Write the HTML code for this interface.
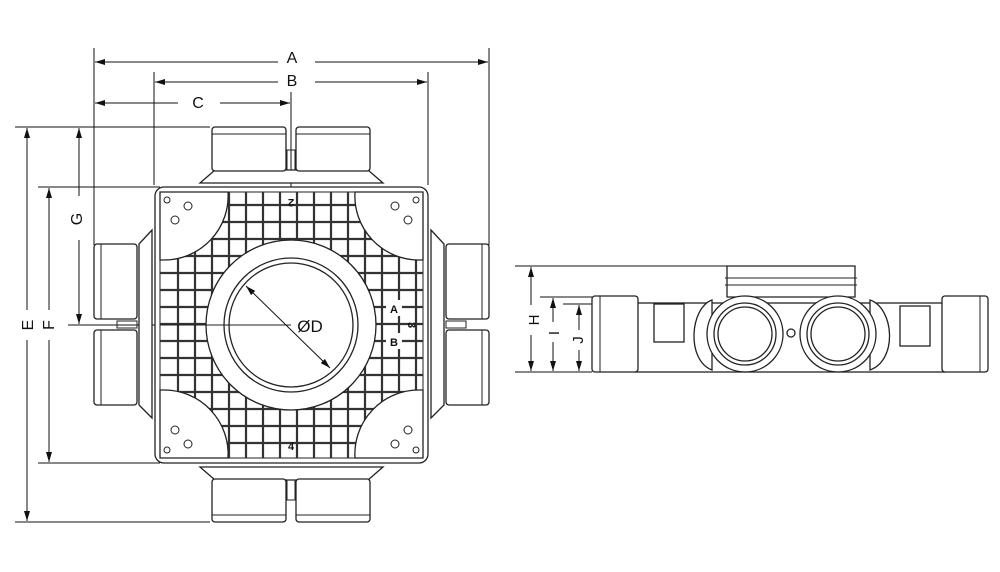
<!DOCTYPE html>
<html><head><meta charset="utf-8"><style>
html,body{margin:0;padding:0;background:#fff;width:1000px;height:572px;overflow:hidden}
svg{display:block}
text{font-family:"Liberation Sans",sans-serif;fill:#111}
</style></head><body>
<svg width="1000" height="572" viewBox="0 0 1000 572" xmlns="http://www.w3.org/2000/svg">
<defs>
<marker id="ar" viewBox="0 0 10 6" refX="10" refY="3" markerWidth="10" markerHeight="6" orient="auto-start-reverse" markerUnits="userSpaceOnUse"><path d="M0,0 L10,3 L0,6 z" fill="#111"/></marker>
<clipPath id="sq"><rect x="160" y="192" width="263" height="266"/></clipPath>
</defs>
<g stroke="#111" stroke-width="1" fill="none">
<!-- dimension lines top -->
<line x1="94" y1="48" x2="94" y2="245"/>
<line x1="489" y1="48" x2="489" y2="245"/>
<line x1="154" y1="72" x2="154" y2="185"/>
<line x1="428" y1="72" x2="428" y2="185"/>
<line x1="291" y1="92" x2="291" y2="325"/>
<line x1="95" y1="62" x2="278" y2="62" marker-start="url(#ar)"/>
<line x1="315" y1="62" x2="488" y2="62" marker-end="url(#ar)"/>
<line x1="155" y1="82" x2="278" y2="82" marker-start="url(#ar)"/>
<line x1="315" y1="82" x2="427" y2="82" marker-end="url(#ar)"/>
<line x1="95" y1="103" x2="178" y2="103" marker-start="url(#ar)"/>
<line x1="220" y1="103" x2="290" y2="103" marker-end="url(#ar)"/>
<!-- left dims -->
<line x1="15" y1="127" x2="210" y2="127"/>
<line x1="15" y1="522" x2="210" y2="522"/>
<line x1="38" y1="187" x2="160" y2="187"/>
<line x1="38" y1="463" x2="160" y2="463"/>
<line x1="68" y1="325" x2="170" y2="325"/>
<line x1="27" y1="128" x2="27" y2="310" marker-start="url(#ar)"/>
<line x1="27" y1="340" x2="27" y2="521" marker-end="url(#ar)"/>
<line x1="49" y1="188" x2="49" y2="310" marker-start="url(#ar)"/>
<line x1="49" y1="340" x2="49" y2="462" marker-end="url(#ar)"/>
<line x1="79" y1="128" x2="79" y2="196" marker-start="url(#ar)"/>
<line x1="79" y1="240" x2="79" y2="324" marker-end="url(#ar)"/>
</g>
<text x="292" y="63" font-size="16" text-anchor="middle">A</text>
<text x="292" y="86" font-size="16" text-anchor="middle">B</text>
<text x="198" y="108" font-size="16" text-anchor="middle">C</text>
<text transform="translate(27,325) rotate(-90)" font-size="16" text-anchor="middle" dy="6">E</text>
<text transform="translate(48,325) rotate(-90)" font-size="16" text-anchor="middle" dy="6">F</text>
<text transform="translate(76,219) rotate(-90)" font-size="16" text-anchor="middle" dy="6">G</text>

<!-- plan view -->
<g stroke="#222" stroke-width="1.3" fill="#fff">
<!-- trapezoid skirts -->
<path d="M200,183 L215,170 L368,170 L383,183 Z"/>
<path d="M200,467 L215,480 L368,480 L383,467 Z"/>
<path d="M152,230 L139,244 L139,405 L152,418 Z"/>
<path d="M431,230 L444,244 L444,405 L431,418 Z"/>
<!-- ports -->
<rect x="212" y="127" width="74" height="44" rx="3"/>
<rect x="296" y="127" width="74" height="44" rx="3"/>
<rect x="212" y="479" width="74" height="43" rx="3"/>
<rect x="296" y="479" width="74" height="43" rx="3"/>
<rect x="94" y="244" width="43" height="75" rx="3"/>
<rect x="94" y="330" width="43" height="75" rx="3"/>
<rect x="446" y="244" width="43" height="75" rx="3"/>
<rect x="446" y="330" width="43" height="75" rx="3"/>
<!-- body -->
<rect x="155" y="187" width="273" height="276" rx="9"/>
</g>
<g stroke="#222" stroke-width="1" fill="none">
<line x1="212" y1="134" x2="286" y2="134"/><line x1="296" y1="134" x2="370" y2="134"/>
<line x1="212" y1="515" x2="286" y2="515"/><line x1="296" y1="515" x2="370" y2="515"/>
<line x1="101" y1="244" x2="101" y2="319"/><line x1="101" y1="330" x2="101" y2="405"/>
<line x1="482" y1="244" x2="482" y2="319"/><line x1="482" y1="330" x2="482" y2="405"/>
<rect x="287" y="150" width="8" height="20"/>
<rect x="287" y="480" width="8" height="20"/>
<rect x="117" y="321" width="20" height="7"/>
<rect x="446" y="321" width="20" height="7"/>
<rect x="160" y="192" width="263" height="266"/>
</g>
<!-- grid -->
<g clip-path="url(#sq)" stroke="#333" stroke-width="2.2" fill="none">
<path d="M178,192V458M195,192V458M212,192V458M229,192V458M246,192V458M263,192V458M280,192V458M297,192V458M314,192V458M331,192V458M348,192V458M365,192V458M382,192V458M399,192V458M416,192V458
M160,205H423M160,222H423M160,239H423M160,256H423M160,273H423M160,290H423M160,307H423M160,324H423M160,341H423M160,358H423M160,375H423M160,392H423M160,409H423M160,426H423M160,443H423"/>
</g>
<g stroke="#222" stroke-width="1.3" fill="#fff">
<!-- corner quarter blocks -->
<path d="M160,192 H228 A64,64 0 0 1 164,260 H160 Z"/>
<path d="M423,192 H355 A64,64 0 0 0 419,260 H423 Z"/>
<path d="M160,458 H228 A64,64 0 0 0 164,390 H160 Z"/>
<path d="M423,458 H355 A64,64 0 0 1 419,390 H423 Z"/>
<circle cx="291" cy="325" r="85"/>
<circle cx="291" cy="325" r="67"/>
<circle cx="291" cy="325" r="62"/>
</g>
<g stroke="#222" stroke-width="1" fill="none">
<circle cx="167" cy="200" r="3"/><circle cx="416" cy="200" r="3"/>
<circle cx="167" cy="450" r="3"/><circle cx="416" cy="450" r="3"/>
<circle cx="188" cy="206" r="4"/><circle cx="175" cy="220" r="4"/>
<circle cx="395" cy="206" r="4"/><circle cx="408" cy="220" r="4"/>
<circle cx="175" cy="430" r="4"/><circle cx="188" cy="444" r="4"/>
<circle cx="408" cy="430" r="4"/><circle cx="395" cy="444" r="4"/>
<line x1="291" y1="325" x2="160" y2="325"/>
<line x1="246" y1="286" x2="330" y2="368" stroke="#111" marker-start="url(#ar)" marker-end="url(#ar)"/>
</g>
<rect x="386" y="300" width="16" height="16" fill="#fff"/>
<rect x="386" y="333" width="16" height="16" fill="#fff"/>
<text x="394" y="313" font-size="11" font-weight="bold" text-anchor="middle">A</text>
<text x="394" y="346" font-size="11" font-weight="bold" text-anchor="middle">B</text>
<text transform="translate(412,325) rotate(90)" font-size="11" font-weight="bold" text-anchor="middle" dy="4">3</text>
<text transform="translate(291,203) rotate(180)" font-size="11" font-weight="bold" text-anchor="middle" dy="4">2</text>
<text x="291" y="450" font-size="11" font-weight="bold" text-anchor="middle">4</text>
<text x="310" y="332" font-size="17" text-anchor="middle">ØD</text>

<!-- side view -->
<g stroke="#111" stroke-width="1" fill="none">
<line x1="515" y1="266" x2="727" y2="266"/>
<line x1="515" y1="372" x2="592" y2="372"/>
<line x1="540" y1="297" x2="592" y2="297"/>
<line x1="563" y1="304" x2="592" y2="304"/>
<line x1="531" y1="267" x2="531" y2="305" marker-start="url(#ar)"/>
<line x1="531" y1="335" x2="531" y2="371" marker-end="url(#ar)"/>
<line x1="553" y1="298" x2="553" y2="322" marker-start="url(#ar)"/>
<line x1="553" y1="342" x2="553" y2="371" marker-end="url(#ar)"/>
<line x1="579" y1="305" x2="579" y2="330" marker-start="url(#ar)"/>
<line x1="579" y1="350" x2="579" y2="371" marker-end="url(#ar)"/>
</g>
<text transform="translate(534,320) rotate(-90)" font-size="15" text-anchor="middle" dy="5">H</text>
<text transform="translate(554,333) rotate(-90)" font-size="15" text-anchor="middle" dy="5">I</text>
<text transform="translate(578,340) rotate(-90)" font-size="15" text-anchor="middle" dy="5">J</text>
<g stroke="#222" stroke-width="1.3" fill="#fff">
<path d="M727,266 H855 V297 H727 Z"/>
<rect x="635" y="303" width="310" height="69"/>
<rect x="592" y="296" width="46" height="76" rx="3"/>
<rect x="942" y="296" width="46" height="76" rx="3"/>
<rect x="654" y="304" width="30" height="38"/>
<rect x="900" y="306" width="30" height="40"/>
<path d="M712,300 C690,308 686,360 712,370 Z"/>
<path d="M870,300 C894,308 898,360 870,370 Z"/>
<circle cx="745" cy="334" r="38"/>
<circle cx="838" cy="334" r="38"/>
<circle cx="745" cy="334" r="31"/>
<circle cx="838" cy="334" r="31"/>
<circle cx="745" cy="334" r="27"/>
<circle cx="838" cy="334" r="27"/>
<circle cx="791" cy="333" r="4"/>
</g>
<g stroke="#222" stroke-width="1" fill="none">
<line x1="725" y1="278" x2="857" y2="278"/>
<line x1="725" y1="285" x2="857" y2="285"/>
<line x1="600" y1="296" x2="600" y2="372"/>
<line x1="980" y1="296" x2="980" y2="372"/>
</g>
</svg>
</body></html>
